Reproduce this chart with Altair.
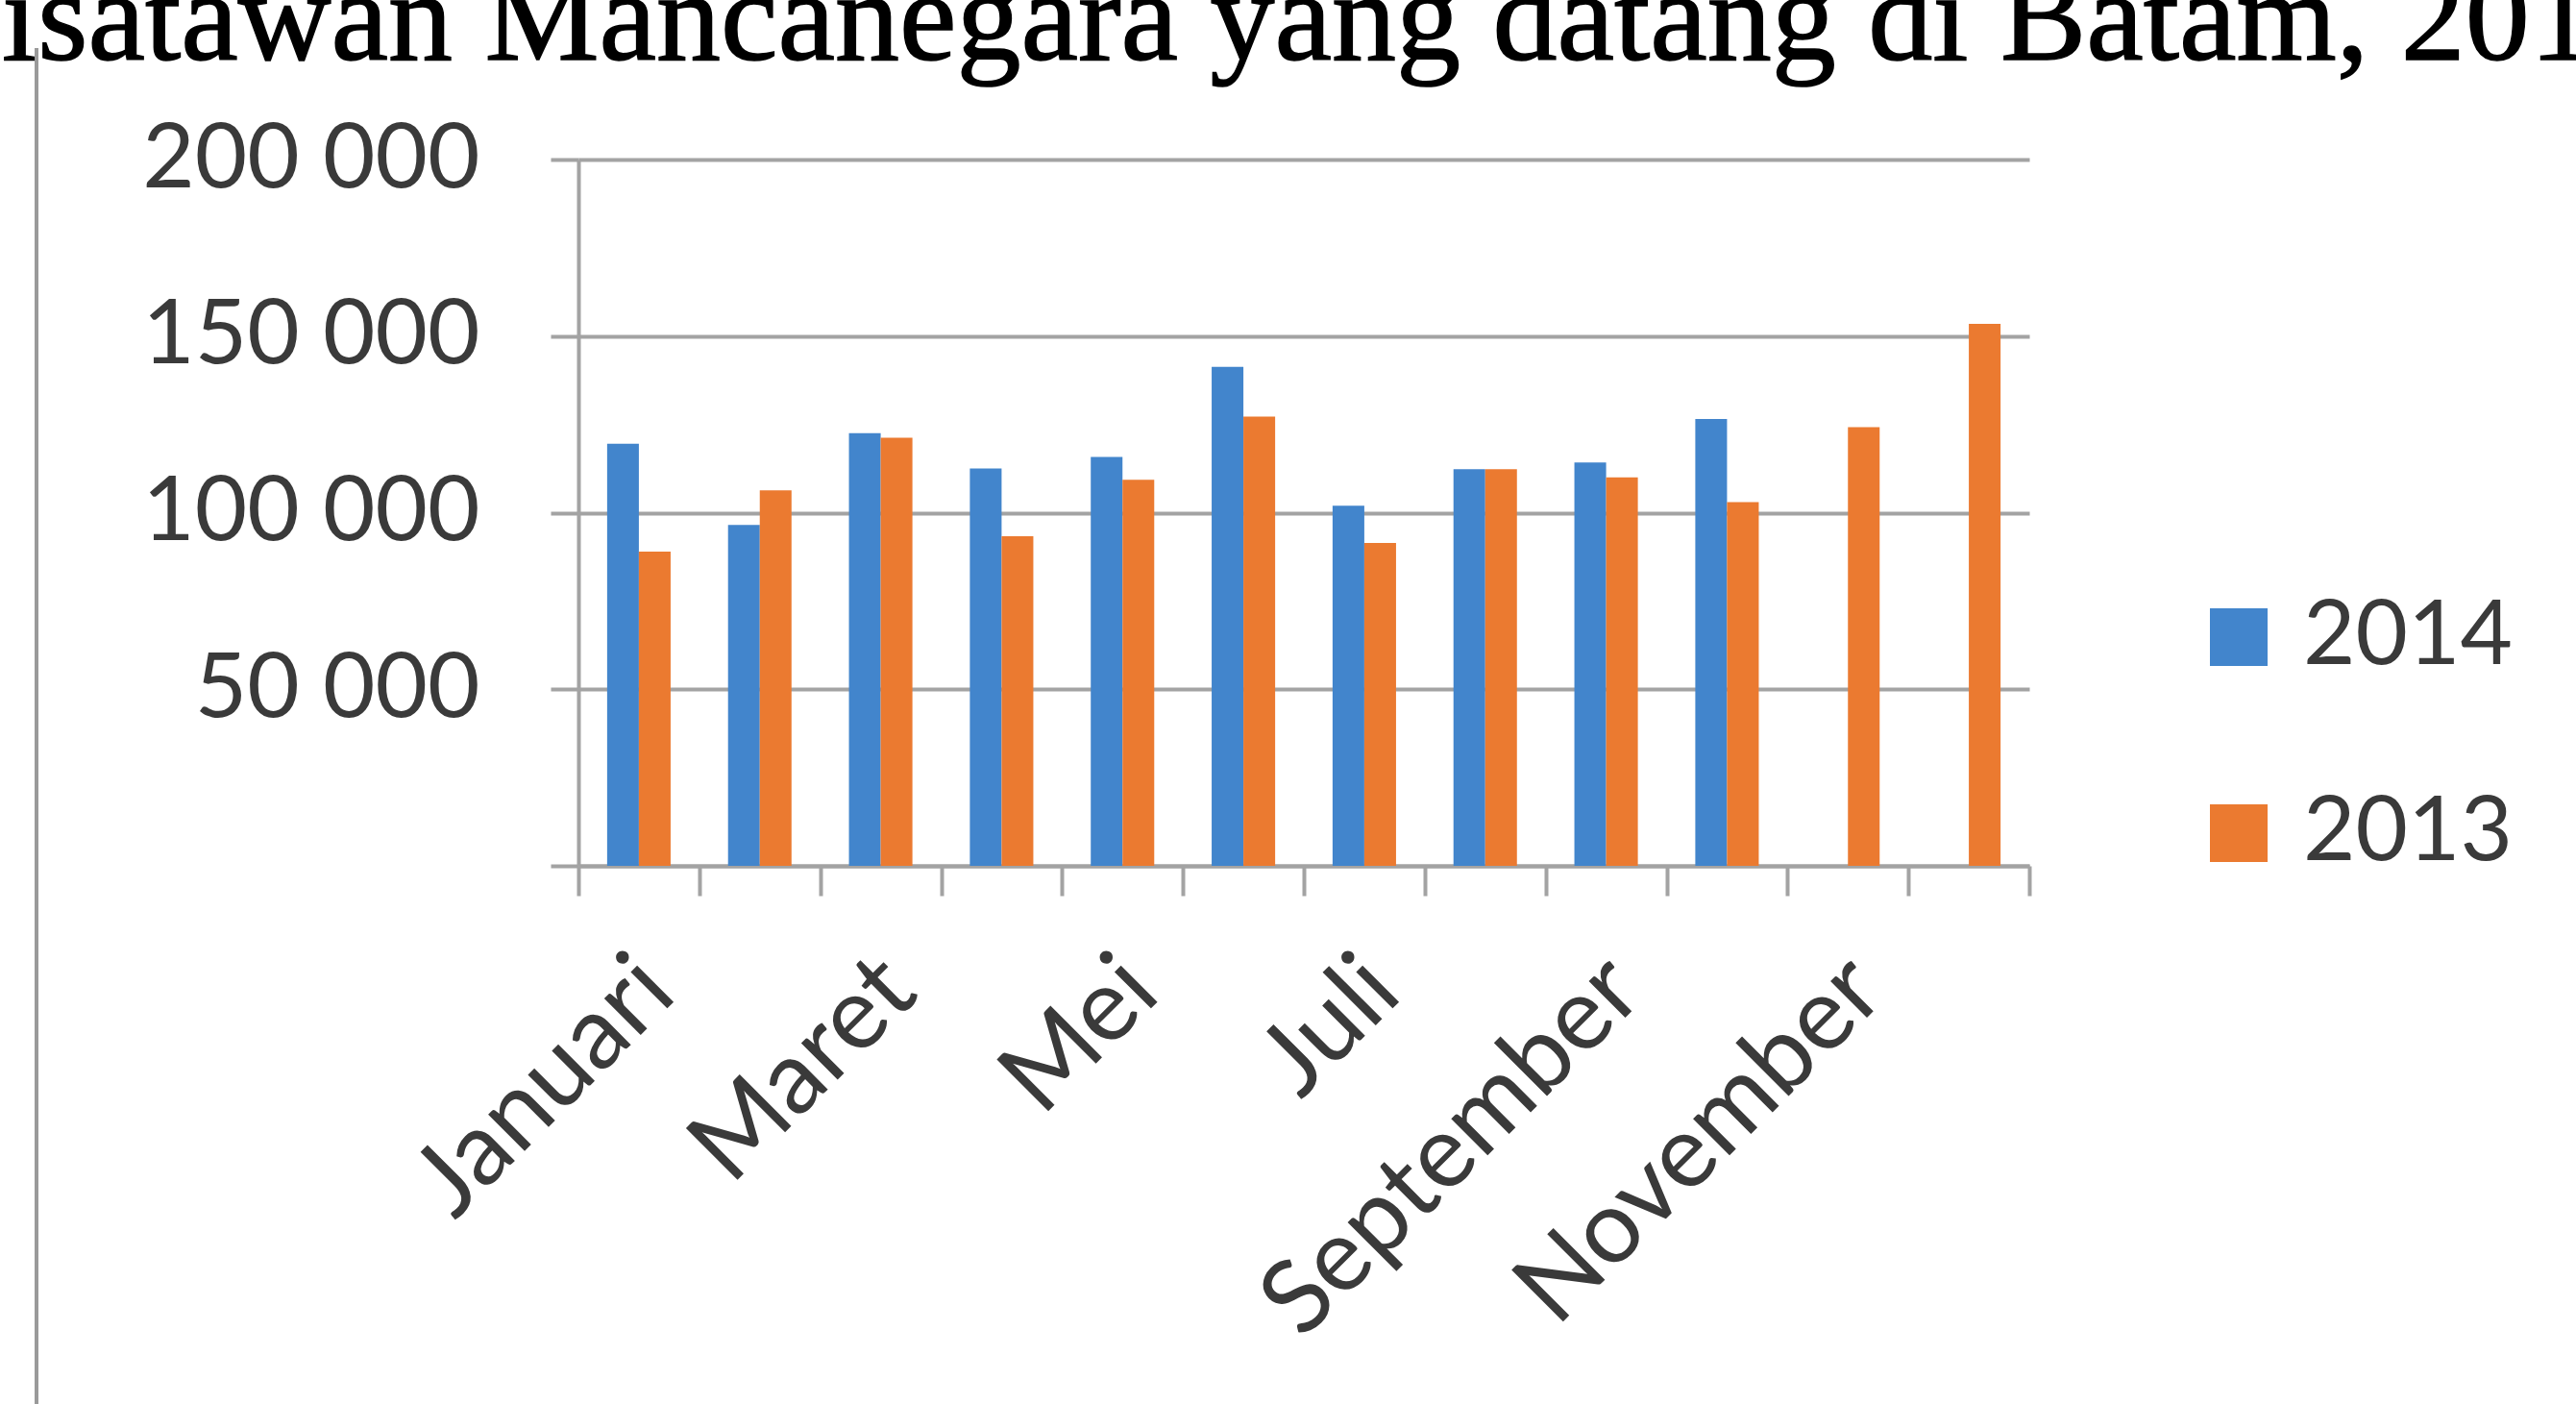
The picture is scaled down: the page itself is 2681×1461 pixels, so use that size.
import json
import altair as alt
import pandas as pd

months = ["Januari", "Februari", "Maret", "April", "Mei", "Juni", "Juli",
          "Agustus", "September", "Oktober", "November", "Desember"]
shown_labels = ["Januari", "Maret", "Mei", "Juli", "September", "November"]
series = ["2014", "2013"]
values_2014 = [119500, 96500, 122500, 112500, 115800, 141300, 102000,
               112300, 114200, 126500, None, None]
values_2013 = [89000, 106300, 121200, 93300, 109300, 127200, 91400,
               112300, 110000, 103000, 124200, 153500]
y_ticks = [0, 50000, 100000, 150000, 200000]
title_text = "Wisatawan Mancanegara yang datang di Batam, 2014"
colors = ["#4285cc", "#eb7a30"]

rows = []
for m, v14, v13 in zip(months, values_2014, values_2013):
    if v14 is not None:
        rows.append({"Bulan": m, "Tahun": "2014", "Jumlah": v14})
    if v13 is not None:
        rows.append({"Bulan": m, "Tahun": "2013", "Jumlah": v13})
df = pd.DataFrame(rows)

GRID = "#a3a3a3"
LABEL = "#3a3a3a"
W, H = 1510, 735
PAD = {"left": 602, "top": 166, "right": 2681 - 602 - W, "bottom": 1461 - 166 - H}

label_expr_x = "indexof(%s, datum.value) >= 0 ? datum.value : ''" % json.dumps(shown_labels)

bars = alt.Chart(df).mark_bar().encode(
    x=alt.X(
        "Bulan:N", sort=months,
        scale=alt.Scale(domain=months, paddingInner=0, paddingOuter=0),
        axis=alt.Axis(
            title=None, labelAngle=-45, tickBand="extent", labelExpr=label_expr_x,
            labelOverlap=False, labelLimit=2000,
            labelFont="Lato", labelFontSize=106, labelColor=LABEL,
            labelPadding=45, labelOffset=-18, tickSize=31, tickWidth=4, tickColor=GRID,
            domainColor=GRID, domainWidth=4, grid=False,
        ),
    ),
    xOffset=alt.XOffset(
        "Tahun:N", sort=series,
        scale=alt.Scale(domain=series, paddingInner=0, paddingOuter=0.905),
    ),
    y=alt.Y(
        "Jumlah:Q",
        scale=alt.Scale(domain=[0, 200000], nice=False),
        axis=alt.Axis(
            title=None, values=y_ticks,
            labelExpr="datum.value == 0 ? '' : replace(format(datum.value, ','), ',', ' ')",
            grid=True, gridColor=GRID, gridWidth=4,
            tickSize=29, tickWidth=4, tickColor=GRID,
            domainColor=GRID, domainWidth=4, labelLimit=2000,
            labelFont="Lato", labelFontSize=94, labelColor=LABEL, labelPadding=74,
        ),
    ),
    color=alt.Color(
        "Tahun:N",
        scale=alt.Scale(domain=series, range=colors),
        legend=alt.Legend(
            title=None, orient="none", legendX=1681, legendY=450,
            symbolType="square", symbolSize=3600, symbolStrokeWidth=0,
            labelFont="Lato", labelFontSize=94, labelColor=LABEL, labelLimit=2000,
            labelOffset=20, rowPadding=110, padding=0,
        ),
    ),
)

title = alt.Chart(pd.DataFrame({"t": [title_text]})).mark_text(
    align="left", baseline="alphabetic", font="Liberation Serif",
    fontSize=134, color="#000000", stroke="#000000", strokeWidth=1.5,
).encode(
    x=alt.value(-721), y=alt.value(62 - 166), text="t:N",
)

border = alt.Chart(pd.DataFrame({"k": [0]})).mark_rule(
    color="#9a9a9a", strokeWidth=4,
).encode(
    x=alt.value(38 - 602), y=alt.value(50 - 166), y2=alt.value(1461 - 166),
)

chart = alt.layer(bars, title, border).properties(
    width=W, height=H, padding=PAD,
    autosize=alt.AutoSizeParams(type="none"),
    background="white",
).configure_view(strokeWidth=0)

chart.save("out.html", embed_options={"renderer": "svg", "actions": False})
